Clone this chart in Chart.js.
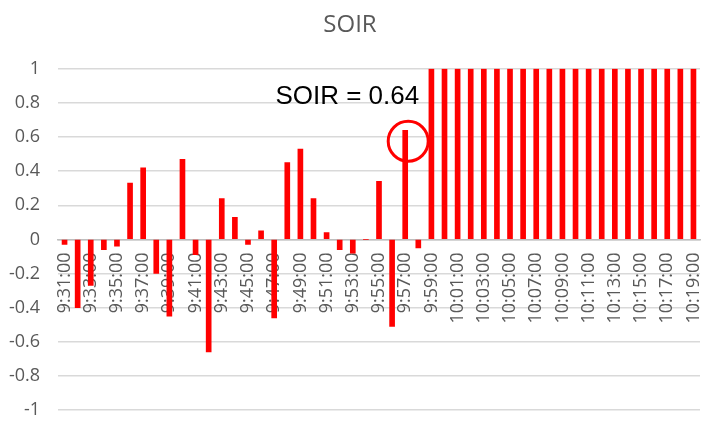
<!DOCTYPE html>
<html>
<head>
<meta charset="utf-8">
<script src="https://cdn.jsdelivr.net/npm/chart.js@4/dist/chart.umd.min.js"></script>
<style>
  html, body { margin: 0; padding: 0; background: #fff; }
  #wrap { width: 708px; height: 423px; }
</style>
</head>
<body>
<div id="wrap"><canvas id="soirChart"></canvas></div>
<script>
// minutes, 9:31 -> 10:19
const minutes = [
  '9:31:00', '9:32:00', '9:33:00', '9:34:00', '9:35:00', '9:36:00', '9:37:00',
  '9:38:00', '9:39:00', '9:40:00', '9:41:00', '9:42:00', '9:43:00', '9:44:00',
  '9:45:00', '9:46:00', '9:47:00', '9:48:00', '9:49:00', '9:50:00', '9:51:00',
  '9:52:00', '9:53:00', '9:54:00', '9:55:00', '9:56:00', '9:57:00', '9:58:00',
  '9:59:00', '10:00:00', '10:01:00', '10:02:00', '10:03:00', '10:04:00', '10:05:00',
  '10:06:00', '10:07:00', '10:08:00', '10:09:00', '10:10:00', '10:11:00', '10:12:00',
  '10:13:00', '10:14:00', '10:15:00', '10:16:00', '10:17:00', '10:18:00', '10:19:00'
];

const soirValues = [
  -0.03, -0.40, -0.27, -0.06, -0.04, 0.33, 0.42,
  -0.20, -0.45, 0.47, -0.09, -0.66, 0.24, 0.13,
  -0.03, 0.05, -0.46, 0.45, 0.53, 0.24, 0.04,
  -0.06, -0.08, 0, 0.34, -0.51, 0.64, -0.05,
  1, 1, 1, 1, 1, 1, 1,
  1, 1, 1, 1, 1, 1, 1,
  1, 1, 1, 1, 1, 1, 1
];

const yTicks = [1, 0.8, 0.6, 0.4, 0.2, 0, -0.2, -0.4, -0.6, -0.8, -1];

// point mis en évidence
const highlightIndex = 26;
const highlightText = 'SOIR = 0.64';

const grey = '#595959';

// cercle + texte autour de la barre de 9:57
const highlightPlugin = {
  id: 'highlight',
  afterDatasetsDraw(chart) {
    const ctx = chart.ctx;
    const x = chart.scales.x.getPixelForValue(highlightIndex);
    const y = chart.scales.y.getPixelForValue(soirValues[highlightIndex]);
    ctx.save();
    ctx.strokeStyle = '#ff0000';
    ctx.lineWidth = 3;
    ctx.beginPath();
    ctx.arc(x + 3, y + 11, 20, 0, Math.PI * 2);
    ctx.stroke();
    ctx.fillStyle = '#000';
    ctx.font = '26px "Liberation Sans", Arial, sans-serif';
    ctx.textAlign = 'right';
    ctx.textBaseline = 'alphabetic';
    ctx.fillText(highlightText, x + 14, y - 26);
    ctx.restore();
  }
};

new Chart(document.getElementById('soirChart'), {
  type: 'bar',
  data: {
    labels: minutes,
    datasets: [{
      label: 'SOIR',
      data: soirValues,
      backgroundColor: '#ff0000',
      borderWidth: 0,
      barThickness: 5
    }]
  },
  options: {
    responsive: true,
    maintainAspectRatio: false,
    animation: false,
    layout: { padding: { left: 0, right: 8, top: 0, bottom: 13 } },
    plugins: {
      legend: { display: false },
      tooltip: { enabled: false },
      title: {
        display: true,
        text: 'SOIR',
        color: grey,
        font: { family: '"Open Sans", sans-serif', size: 24, weight: 'normal' },
        padding: { top: 11, bottom: 29 }
      }
    },
    scales: {
      x: {
        position: { y: 0 },
        afterFit: axis => {
          axis.paddingBottom = 0; axis.paddingTop = 0;
          axis.paddingLeft = 0; axis.paddingRight = 0;
        },
        grid: { display: false },
        border: { display: true, color: '#bfbfbf', width: 1.5 },
        ticks: {
          autoSkip: false,
          minRotation: 90,
          maxRotation: 90,
          padding: 5,
          color: grey,
          font: { family: '"Open Sans", sans-serif', size: 18 },
          callback: (v, i) => (i % 2 === 0 ? minutes[i] : '')
        }
      },
      y: {
        min: -1,
        max: 1,
        afterBuildTicks: axis => { axis.ticks = yTicks.map(v => ({ value: v })); },
        afterFit: axis => { axis.width = 58; axis.paddingBottom = 0; axis.paddingTop = 0; },
        grid: { color: '#d9d9d9', lineWidth: 1.5, drawTicks: false },
        border: { display: false },
        ticks: {
          padding: 18,
          color: grey,
          font: { family: '"Open Sans", sans-serif', size: 18 },
          callback: v => String(Math.round(v * 10) / 10)
        }
      }
    }
  },
  plugins: [highlightPlugin]
});
</script>
</body>
</html>
